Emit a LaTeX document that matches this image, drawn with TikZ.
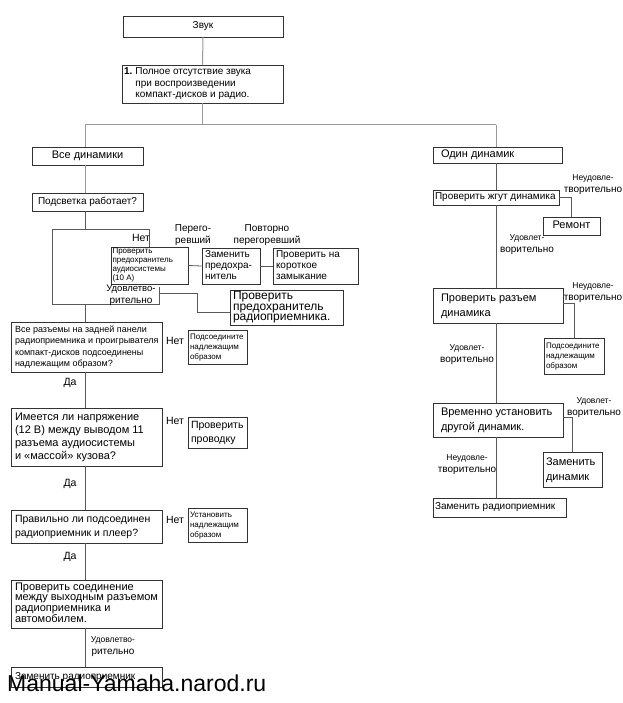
\documentclass[tikz,border=0pt]{standalone}
\usepackage{fontspec}
\setmainfont{Liberation Sans}
\usetikzlibrary{calc}
\newcommand\fs[2]{\fontsize{#1}{#2}\selectfont}
\tikzset{
  box/.style={draw=black!80, line width=0.8pt, fill=white, inner ysep=0pt, anchor=center},
  ln/.style={draw=black!65, line width=0.8pt},
  lnl/.style={draw=black!40, line width=1pt},
  lab/.style={inner sep=0pt, align=center},
}
% \bxi{align}{name}{x1}{y1}{x2}{y2}{pad}{font}{lines}
\newcommand\bxi[9]{%
  \pgfmathsetmacro\bxcx{(#3+#5)/2}%
  \pgfmathsetmacro\bxcy{(#4+#6)/2}%
  \pgfmathsetmacro\bxw{#5-#3}%
  \pgfmathsetmacro\bxh{#6-#4}%
  \pgfmathsetmacro\bxtw{#5-#3-2*#7}%
  \node[box, inner xsep=#7pt, minimum width=\bxw pt, minimum height=\bxh pt] (#2) at (\bxcx,\bxcy)
    {\makebox[\bxtw pt][#1]{#8\begin{tabular}{@{}#1@{}}#9\end{tabular}}};%
}
\newcommand\bx{\bxi{l}}
\newcommand\bxc{\bxi{c}}
\begin{document}
\begin{tikzpicture}[x=1pt,y=-1pt]
\useasboundingbox[fill=white] (0,0) rectangle (622,703);
% ---------- boxes ----------
\bxc{zvuk}{123}{16}{283}{37}{3}{\fs{10}{11}}{Звук}
\bx{b1}{122}{65}{283}{103}{2}{\fs{10}{11.5}}{\begin{tabular}{@{}l@{\hspace{3pt}}l@{}}\textbf{1.}&Полное отсутствие звука\\&при воспроизведении\\&компакт-дисков и радио.\end{tabular}}
\bxc{all}{32}{147}{143}{165}{3}{\fs{11}{12}}{Все динамики}
\bxc{light}{32}{193}{143}{211}{1}{\fs{10}{11}}{Подсветка работает?}
\bx{fuse10}{111}{247}{188}{284}{1.5}{\fs{8}{9}}{Проверить\\предохранитель\\аудиосистемы\\(10 A)}
\bx{repl}{202}{248}{260}{284}{3}{\fs{10}{11}}{Заменить\\предохра-\\нитель}
\bx{short}{273}{248}{358}{284}{3}{\fs{10}{11}}{Проверить на\\короткое\\замыкание}
\bx{fuseR}{230}{290}{343}{325}{3}{\fs{12}{10.5}}{Проверить\\предохранитель\\радиоприемника.}
\bx{conn}{11}{322}{162}{372}{4}{\fs{9}{11.5}}{Все разъемы на задней панели\\радиоприемника и проигрывателя\\компакт-дисков подсоединены\\надлежащим образом?}
\bx{connA}{188}{330}{247}{364}{2}{\fs{8}{10}}{Подсоедините\\надлежащим\\образом}
\bx{volt}{11}{408}{162}{466}{4}{\fs{11}{13}}{Имеется ли напряжение\\(12 В) между выводом 11\\разъема аудиосистемы\\и «массой» кузова?}
\bx{wiring}{188}{417}{247}{448}{3}{\fs{10.5}{14}}{Проверить\\проводку}
\bx{rad}{11}{510}{162}{543}{4}{\fs{10.5}{14}}{Правильно ли подсоединен\\радиоприемник и плеер?}
\bx{inst}{188}{508}{247}{542}{2}{\fs{8}{10}}{Установить\\надлежащим\\образом}
\bx{out}{11}{580}{162}{628}{4}{\fs{11}{10.5}}{Проверить соединение\\между выходным разъемом\\радиоприемника и\\автомобилем.}
\bx{replRL}{11}{667}{162}{687}{4}{\fs{10}{11}}{Заменить радиоприемник}
% right column
\bx{one}{433}{147}{562}{163}{8}{\fs{11}{12}}{Один динамик}
\bx{harness}{433}{190}{559}{205}{2}{\fs{10}{11}}{Проверить жгут динамика}
\bxc{repair}{543}{217}{600}{235}{3}{\fs{11}{12}}{Ремонт}
\bx{spk}{433}{288}{563}{323}{8}{\fs{11}{15}}{Проверить разъем\\динамика}
\bx{spkA}{544}{338}{604}{374}{2}{\fs{8}{10}}{Подсоедините\\надлежащим\\образом}
\bx{temp}{433}{403}{563}{437}{8}{\fs{11}{15}}{Временно установить\\другой динамик.}
\bx{replS}{543}{452}{602}{487}{3}{\fs{11}{15}}{Заменить\\динамик}
\bx{replRR}{433}{498}{566}{517}{2}{\fs{10}{11}}{Заменить радиоприемник}
% ---------- connectors ----------
\coordinate (jL) at (85,125);
\coordinate (jR) at (496,125);
\draw[lnl] (zvuk.south) -- (b1.north);
\draw[lnl] (b1.south) -- (b1.south |- jL);
\draw[lnl] (jL) -- (jR);
\draw[lnl] (jL) -- (jL |- all.north);
\draw[lnl] (jL |- all.south) -- (jL |- light.north);
\draw[lnl] (jR) -- (jR |- one.north);
% loop
\coordinate (lpTL) at (52,229);
\coordinate (lpBL) at (52,304);
\coordinate (lpBR) at (159,304);
\coordinate (lpR) at (159,287);
\coordinate (ub1) at (159,293);
\coordinate (ub2) at (197,312);
\draw[ln] (jL |- light.south) -- (jL |- lpTL);
\draw[ln] (fuse10.north) |- (lpTL) -- (lpBL) -- (lpBR) -- (lpR);
\draw[ln] (ub1) -| (ub2) -- (fuseR.west |- ub2);
\draw[ln] (fuse10.east) -- (repl.west);
\draw[ln] (repl.east) -- (short.west);
\draw[ln] (jL |- lpBL) -- (jL |- conn.north);
\draw[ln] (jL |- conn.south) -- (jL |- volt.north);
\draw[ln] (jL |- volt.south) -- (jL |- rad.north);
\draw[ln] (jL |- rad.south) -- (jL |- out.north);
\draw[ln] (jL |- out.south) -- (jL |- replRL.north);
% right
\coordinate (spkE) at (563,303);
\coordinate (tempE) at (563,417);
\draw[ln] (jR |- one.south) -- (jR |- harness.north);
\draw[ln] (harness.east) -| (repair.north);
\draw[ln] (jR |- harness.south) -- (jR |- spk.north);
\draw[ln] (spkE) -| (spkA.north);
\draw[ln] (jR |- spk.south) -- (jR |- temp.north);
\draw[ln] (tempE) -| (replS.north);
\draw[ln] (jR |- temp.south) -- (jR |- replRR.north);
% ---------- labels ----------
\node[lab] (l1) at (141,238) {\fs{10.5}{12}Нет};
\node[lab] (l2) at (193,235) {\fs{10}{8.5}Перего-\\ревший};
\node[lab] (l3) at (267,235) {\fs{10}{8.5}Повторно\\перегоревший};
\node[lab] (l4) at (131,295) {\fs{9.5}{8.5}Удовлетво-\\рительно};
\node[lab] (l5) at (175,341) {\fs{10.5}{12}Нет};
\node[lab] (l6) at (175,421) {\fs{10.5}{12}Нет};
\node[lab] (l7) at (175,520) {\fs{10.5}{12}Нет};
\node[lab] (l8) at (70,383) {\fs{10.5}{12}Да};
\node[lab] (l9) at (70,484) {\fs{10.5}{12}Да};
\node[lab] (l10) at (70,557) {\fs{10.5}{12}Да};
\node[lab] (l11) at (113,647) {\fs{8.5}{8}Удовлетво-\\рительно};
\node[lab] (r1) at (593,185) {\fs{8.5}{8}Неудовле-\\творительно};
\node[lab] (r2) at (527,245) {\fs{8.5}{8}Удовлет-\\ворительно};
\node[lab] (r3) at (593,293) {\fs{8.5}{8}Неудовле-\\творительно};
\node[lab] (r4) at (467,355) {\fs{8.5}{8}Удовлет-\\ворительно};
\node[lab] (r5) at (594,408) {\fs{8.5}{8}Удовлет-\\ворительно};
\node[lab] (r6) at (467,465) {\fs{8.5}{8}Неудовле-\\творительно};
% watermark
\node[anchor=base west, inner sep=0pt] (wm) at (7,691) {\fs{23}{26}Manual-Yamaha.narod.ru};
\end{tikzpicture}
\end{document}
